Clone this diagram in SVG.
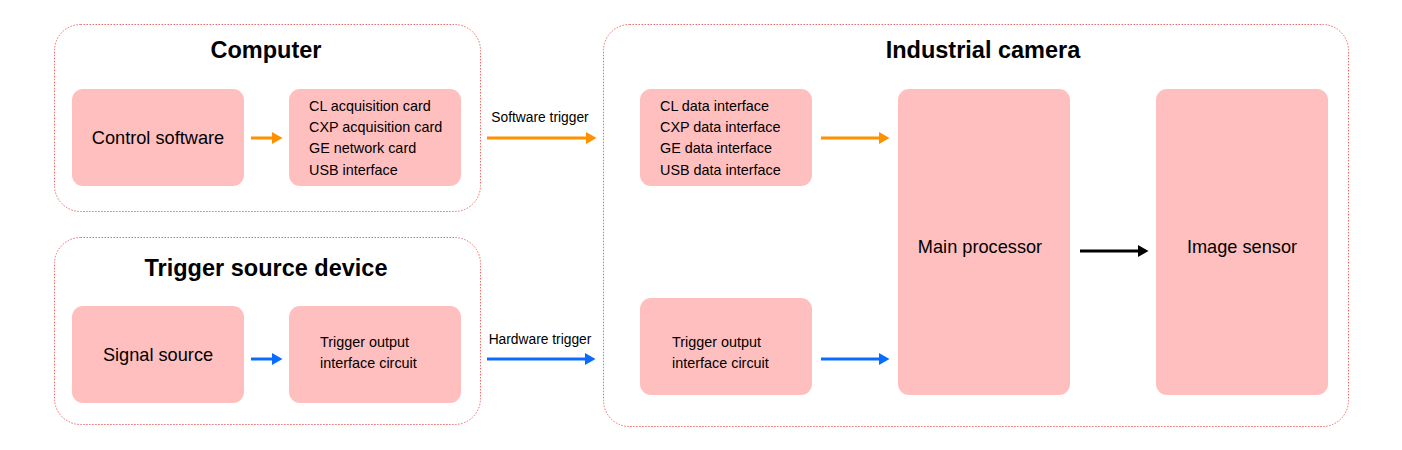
<svg xmlns="http://www.w3.org/2000/svg" width="1402" height="450" viewBox="0 0 1402 450">
<style>
.cont{fill:#fff;stroke:#f06a6a;stroke-width:1;stroke-dasharray:1.5 1.5}
.node{fill:#ffbfbf}
.title{font-family:"Liberation Sans",Arial,sans-serif;font-size:23.5px;font-weight:bold;fill:#000;text-anchor:middle}
.big{font-family:"Liberation Sans",Arial,sans-serif;font-size:18.2px;fill:#000}
.sm{font-family:"Liberation Sans",Arial,sans-serif;font-size:14.4px;fill:#000}
.lbl{font-family:"Liberation Sans",Arial,sans-serif;font-size:13.8px;fill:#000;text-anchor:middle}
.or{stroke:#ff9100;stroke-width:3;fill:none}
.bl{stroke:#0a6cff;stroke-width:3;fill:none}
.bk{stroke:#000;stroke-width:3;fill:none}
</style>
<defs>
<marker id="ao" markerWidth="4" markerHeight="4" refX="0" refY="2" orient="auto" markerUnits="strokeWidth"><path d="M0,0 L3.5,2 L0,4 Z" fill="#ff9100"/></marker>
<marker id="ab" markerWidth="4" markerHeight="4" refX="0" refY="2" orient="auto" markerUnits="strokeWidth"><path d="M0,0 L3.5,2 L0,4 Z" fill="#0a6cff"/></marker>
<marker id="ak" markerWidth="4" markerHeight="4" refX="0" refY="2" orient="auto" markerUnits="strokeWidth"><path d="M0,0 L3.5,2 L0,4 Z" fill="#000"/></marker>
</defs>
<rect width="1402" height="450" fill="#fff"/>
<g id="computer">
<rect class="cont" x="54.5" y="24.5" width="426" height="187" rx="26"/>
<text class="title" x="266" y="58">Computer</text>
</g>
<g id="trigger-source-device">
<rect class="cont" x="54.5" y="237.5" width="426" height="187" rx="26"/>
<text class="title" x="266" y="276">Trigger source device</text>
</g>
<g id="industrial-camera">
<rect class="cont" x="603.5" y="24.5" width="745" height="402" rx="26"/>
<text class="title" x="983" y="58">Industrial camera</text>
</g>
<g id="control-software">
<rect class="node" x="72" y="89" width="172" height="97" rx="11"/>
<text class="big" x="158" y="144" text-anchor="middle">Control software</text>
</g>
<g id="acquisition-cards">
<rect class="node" x="289" y="89" width="172" height="97" rx="11"/>
<text class="sm" x="309" y="111">CL acquisition card</text>
<text class="sm" x="309" y="132">CXP acquisition card</text>
<text class="sm" x="309" y="153">GE network card</text>
<text class="sm" x="309" y="175">USB interface</text>
</g>
<g id="signal-source">
<rect class="node" x="72" y="306" width="172" height="97" rx="11"/>
<text class="big" x="158" y="361" text-anchor="middle">Signal source</text>
</g>
<g id="trigger-output-source">
<rect class="node" x="289" y="306" width="172" height="97" rx="11"/>
<text class="sm" x="320" y="347">Trigger output</text>
<text class="sm" x="320" y="368">interface circuit</text>
</g>
<g id="data-interfaces">
<rect class="node" x="640" y="89" width="172" height="97" rx="11"/>
<text class="sm" x="660" y="111">CL data interface</text>
<text class="sm" x="660" y="132">CXP data interface</text>
<text class="sm" x="660" y="153">GE data interface</text>
<text class="sm" x="660" y="175">USB data interface</text>
</g>
<g id="trigger-output-camera">
<rect class="node" x="640" y="298" width="172" height="97" rx="11"/>
<text class="sm" x="672" y="347">Trigger output</text>
<text class="sm" x="672" y="368">interface circuit</text>
</g>
<g id="main-processor">
<rect class="node" x="898" y="89" width="172" height="306" rx="11"/>
<text class="big" x="980" y="253" text-anchor="middle">Main processor</text>
</g>
<g id="image-sensor">
<rect class="node" x="1156" y="89" width="172" height="306" rx="11"/>
<text class="big" x="1242" y="253" text-anchor="middle">Image sensor</text>
</g>
<g id="connectors">
<line class="or" x1="251" y1="138" x2="272" y2="138" marker-end="url(#ao)"/>
<line class="or" x1="487" y1="138" x2="586" y2="138" marker-end="url(#ao)"/>
<text class="lbl" x="540" y="122">Software trigger</text>
<line class="or" x1="821" y1="138" x2="879" y2="138" marker-end="url(#ao)"/>
<line class="bl" x1="251" y1="359" x2="272" y2="359" marker-end="url(#ab)"/>
<line class="bl" x1="487" y1="359" x2="585" y2="359" marker-end="url(#ab)"/>
<text class="lbl" x="540" y="344">Hardware trigger</text>
<line class="bl" x1="821" y1="359" x2="879" y2="359" marker-end="url(#ab)"/>
<line class="bk" x1="1080" y1="251" x2="1138" y2="251" marker-end="url(#ak)"/>
</g>
</svg>
